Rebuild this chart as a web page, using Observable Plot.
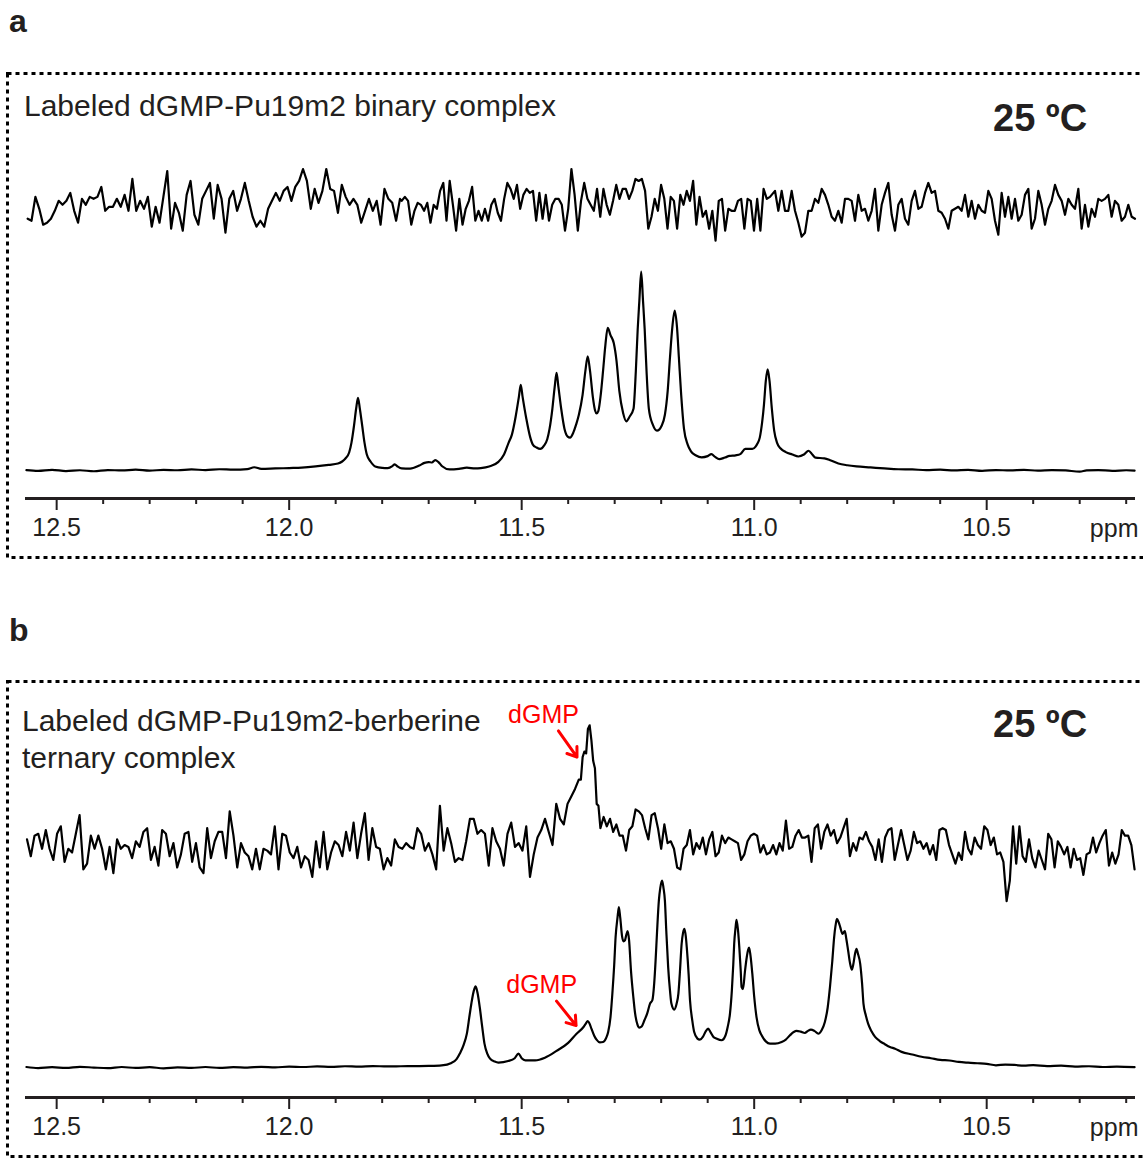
<!DOCTYPE html>
<html><head><meta charset="utf-8">
<script src="https://cdn.jsdelivr.net/npm/d3@7"></script>
<script src="https://cdn.jsdelivr.net/npm/@observablehq/plot@0.6"></script>
<style>
body{margin:0;background:#fff;}
#fig{position:relative;width:1143px;height:1158px;overflow:hidden;font-family:"Liberation Sans",Arial,Helvetica,sans-serif;color:#231f20;background:#fff;}
.abs{position:absolute;white-space:nowrap;line-height:1;}
</style></head><body><div id="fig"></div>
<script>
// ---------------- DATA ----------------
const xDomain = [12.567, 10.18];           // ppm, reversed axis
const majorTicks = [12.5, 12.0, 11.5, 11.0, 10.5];
const majorTickLabels = ["12.5", "12.0", "11.5", "11.0", "10.5"];
const minorTicks = [12.4,12.3,12.2,12.1,11.9,11.8,11.7,11.6,11.4,11.3,11.2,11.1,10.9,10.8,10.7,10.6,10.4,10.3,10.2];

// Panel a: 1D spectrum (ppm, intensity, tallest peak = 100)
const spectrumA = [[12.565,0.2],[12.54,-0.2],[12.51,0.3],[12.48,-0.3],[12.45,0.1],[12.42,-0.4],[12.39,0.2],[12.36,0],[12.33,0.4],[12.30,-0.1],[12.27,0.3],[12.24,0.1],[12.21,0.5],[12.18,0.2],[12.15,0.6],[12.12,0.4],[12.09,0.7],[12.075,1.6],[12.06,0.8],[12.03,1.0],[12.00,1.2],[11.973,1.4],[11.943,2.0],[11.915,2.8],[11.895,3.5],[11.886,4.5],[11.879,6],[11.871,9],[11.866,14],[11.8605,22.6],[11.856,31],[11.852,36.5],[11.848,31],[11.843,22.6],[11.838,14],[11.833,8],[11.825,4.5],[11.815,2],[11.800,1.3],[11.788,1.2],[11.778,2.2],[11.773,3.1],[11.767,2],[11.758,1],[11.74,0.9],[11.72,2.5],[11.709,3.8],[11.70,4.2],[11.693,4.0],[11.686,5.2],[11.679,4.2],[11.671,2.1],[11.655,0.5],[11.635,0.8],[11.618,1.4],[11.60,1.0],[11.588,1.2],[11.57,2.0],[11.55,4.3],[11.538,8],[11.528,14],[11.521,18],[11.513,27],[11.506,37],[11.502,43],[11.498,37],[11.490,26],[11.482,17],[11.476,13],[11.468,11.5],[11.460,10.8],[11.452,12.5],[11.445,15.7],[11.440,21],[11.434,31],[11.429,42],[11.425,49],[11.421,42],[11.415,31],[11.408,21],[11.401,17],[11.396,16.5],[11.389,19],[11.383,23],[11.377,28],[11.369,38],[11.363,50],[11.358,57.4],[11.353,50],[11.347,37],[11.342,30],[11.339,28.7],[11.335,30],[11.330,38],[11.325,50],[11.320,63],[11.315,71.7],[11.309,68],[11.302,64],[11.296,55],[11.290,40],[11.282,29],[11.275,24.7],[11.268,27],[11.2595,31],[11.2545,50],[11.2505,71],[11.247,85],[11.243,100],[11.239,85],[11.2355,71],[11.2315,50],[11.2265,31],[11.218,23],[11.209,20],[11.199,22.5],[11.192,28],[11.186,40],[11.181,57],[11.176,72],[11.171,80.3],[11.166,72],[11.162,57],[11.157,38],[11.151,21],[11.143,13],[11.136,9.6],[11.125,7.5],[11.113,6.6],[11.100,7.2],[11.092,8.2],[11.084,6.8],[11.075,5.7],[11.063,6.5],[11.053,7.3],[11.040,7.6],[11.030,8.2],[11.019,10.8],[11.004,10.8],[10.997,12],[10.993,13.5],[10.988,16.5],[10.983,24],[10.979,33],[10.975,45],[10.971,50.8],[10.967,45],[10.962,31],[10.957,20],[10.951,14],[10.943,11],[10.932,9.2],[10.918,8],[10.905,7],[10.893,8],[10.883,9.9],[10.875,8],[10.868,6.4],[10.849,6.1],[10.835,5],[10.819,3.5],[10.80,2.6],[10.78,2.0],[10.75,1.5],[10.72,1.0],[10.69,0.6],[10.66,0.5],[10.63,0.2],[10.60,0.4],[10.57,0],[10.54,0.3],[10.51,-0.2],[10.48,0.2],[10.45,0],[10.42,0.3],[10.39,-0.1],[10.36,0.2],[10.33,0],[10.30,-0.6],[10.285,0],[10.26,0.2],[10.23,-0.2],[10.20,0.1],[10.182,-0.1]];

// Panel a: difference trace (noise), read in three stretches [start ppm, end ppm, values]
const noiseA1 = [-7,-8,4,-2,-10,-9,-7,-3,2,0, 2,6,-3,-9,3,0,4,3,4,9, -3,-1,-1,3,-1,5,-3,13,-3,2, -2,4,-11,-1,-9,4,17,-12,1,-4, -13,5,12,-5,-10,3,7,11,-7,10, 3,-14,3,7,-3,3,11,2,-6,-11, -8,-11,-2,2,6,2,7,9,2,9, 12,18,12,-2,8,1,7,18,8,7, -4,10,4,0,3,0,-9,-3,3,-3, 2,-10,8,3,1,-8,3];
const noiseA2 = [2,4,2,-10,-3,1,0,-3,1,-9, 0,-2,7,11,-8,12,0,-13,3,-10, -2,2,9,-8,-3,-8,-2,-8,0,3, -4,-8,3,11,8,3,10,-2,5,8, 6,7,-8,6,-7,5,-8,0,3,3, 0,-13,-2,18,5,-13,2,11,3,0, -3,8,-6,8,0,-5,2,10,3,8, 8,3,7,13,12,13,7,-12,-6,3, -3,10,3,-12,4,2,-12,5,0,7, 2,12,-10,4,-6,-3,-12,-3,-18,2, 3,-13,-2,-3,-3,2,3,-12,3,2, -13,3,-13,8,3,4];
const noiseA3 = [5,7,-3,7,-3,-3,7,-3,-9,-16, -14,-3,-3,3,1,8,5,0,-6,-8, -3,-9,3,3,2,-8,5,-3,-2,-8, -3,8,-13,0,6,11,-5,-13,0,3, -7,-10,2,7,-2,-1,6,11,6,7, -3,-4,-7,-12,-3,-2,-1,-3,5,-6, 2,-7,0,-3,-4,7,3,-8,-15,6, -6,4,-7,3,-8,-5,5,8,-12,-7, 7,0,-10,-2,2,10,5,2,-5,3, 0,-2,8,-12,0,-11,-2,-6,3,2, 3,5,-6,2,0,-8,-6,0,-6,-7];
const noiseAStretches = [[12.5624, 11.7617, noiseA1], [11.7581, 10.966, noiseA2], [10.9624, 10.1811, noiseA3]];

// Panel b: 1D spectrum (ppm, intensity, tallest peak = 100)
const spectrumB = [[12.565,0.3],[12.54,-0.3],[12.51,0.2],[12.48,-0.2],[12.45,0.4],[12.42,0],[12.39,-0.3],[12.36,0.3],[12.33,-0.2],[12.30,0.2],[12.27,-0.4],[12.24,0.1],[12.21,-0.2],[12.18,0.3],[12.15,-0.2],[12.12,0.2],[12.09,0],[12.06,0.4],[12.03,0.1],[12.00,0.5],[11.97,0.3],[11.94,0.6],[11.91,0.4],[11.88,0.7],[11.85,0.5],[11.82,0.8],[11.79,0.6],[11.76,0.7],[11.73,0.8],[11.70,0.9],[11.672,1.2],[11.651,2.5],[11.640,4.5],[11.633,7.5],[11.625,12],[11.618,18],[11.612,28],[11.607,36],[11.603,41],[11.599,43.4],[11.595,40],[11.590,32],[11.585,22],[11.580,12.8],[11.574,7.5],[11.568,4.8],[11.558,3.2],[11.550,2.7],[11.529,3.5],[11.515,5],[11.507,7.5],[11.500,5],[11.492,3.9],[11.471,3.9],[11.450,5.3],[11.425,8.9],[11.400,13.2],[11.382,18.1],[11.367,21.7],[11.362,23.5],[11.358,24.9],[11.354,23.5],[11.350,20.8],[11.344,17],[11.339,14.9],[11.332,13.5],[11.325,13.7],[11.318,16],[11.314,19],[11.309,27],[11.305,39.5],[11.301,55],[11.298,69.8],[11.294,80],[11.291,85.8],[11.288,80],[11.284,70],[11.281,67.5],[11.278,68],[11.275,71],[11.272,73],[11.269,68],[11.265,52],[11.260,38],[11.256,28.8],[11.251,23],[11.247,21.4],[11.242,22],[11.236,25.3],[11.230,29],[11.224,34.2],[11.219,36],[11.215,45],[11.212,57.3],[11.209,72],[11.205,89.3],[11.202,96],[11.198,100],[11.195,96],[11.192,89.3],[11.189,73],[11.185,53.7],[11.181,41],[11.178,34.2],[11.172,31],[11.167,34],[11.163,39.5],[11.160,50],[11.156,66.2],[11.153,72],[11.150,74.2],[11.147,70],[11.145,64.4],[11.141,50],[11.138,35.9],[11.133,25],[11.129,19],[11.122,15.5],[11.117,14.9],[11.110,16.5],[11.104,19.5],[11.099,20.8],[11.094,19],[11.088,16.5],[11.081,15.5],[11.070,14.6],[11.062,17],[11.057,21.7],[11.052,29],[11.048,41.3],[11.045,55],[11.043,66.2],[11.040,75],[11.038,79],[11.035,74],[11.032,64.4],[11.029,52],[11.027,43],[11.024,42],[11.020,51.1],[11.016,59],[11.013,63],[11.011,64.1],[11.008,60],[11.004,50.2],[11.000,38],[10.995,27],[10.989,20],[10.984,17.3],[10.975,14],[10.966,12.8],[10.955,12.8],[10.941,13.7],[10.932,15],[10.923,17.3],[10.915,19],[10.909,19.6],[10.900,19.2],[10.891,18.5],[10.885,19.5],[10.878,20.3],[10.870,19.5],[10.862,18.1],[10.855,20],[10.848,24.4],[10.842,32],[10.837,43.1],[10.832,57],[10.828,69.8],[10.825,76],[10.822,79.5],[10.818,77.5],[10.815,75.1],[10.810,71.5],[10.807,72.5],[10.805,73],[10.802,69],[10.798,62.6],[10.794,56],[10.790,52.3],[10.787,55],[10.783,61],[10.780,63.5],[10.777,61],[10.772,55.5],[10.768,45],[10.765,34.2],[10.760,28],[10.755,23.5],[10.748,19.5],[10.740,16.4],[10.730,14.2],[10.719,12.5],[10.708,11],[10.697,10.1],[10.683,8.4],[10.66,7],[10.64,5.8],[10.62,5],[10.60,4.1],[10.58,3.8],[10.56,3.0],[10.54,2.6],[10.52,2.3],[10.50,2.0],[10.48,1.2],[10.46,1.6],[10.44,1.4],[10.42,1.0],[10.40,1.3],[10.37,0.8],[10.34,1.0],[10.31,0.5],[10.28,0.7],[10.25,0.3],[10.22,0.5],[10.182,0.2]];

// Panel b: difference trace (noise + dGMP signal)
const noiseB1 = [4,-5,6,7,-1,9,-1,-7,7,11, -8,-1,-3,7,17,-12,-9,6,-1,6, -1,-12,0,-14,4,-1,1,0,-6,3, 0,8,10,-7,0,-10,9,7,-5,2, -11,-4,7,8,-8,2,-11,-14,10,-6, 3,8,8,-6,19,6,-11,2,-3,-5, -12,-1,-12,-1,-2,-4,11,-12,7,6, -3,-6,0,-11,-5,-7,-16,3,-11,8, -12,-3,3,1,-5,8,-2,13,-6,7, 18,-7,10,0,-1,-12,-6,-10,4,0, -1,2,0,-1,10,7,-2,2,-4,-12, 22,-2,10,2,-8,-6,-7,3,15,15, 7,9,7,-10,10,3,-1,-10,7,13, 0,2,-2,11,-16,-4,5,9,15,8, 1,23,15,12,23,27,31,36];
const noiseB2 = [36,48,51,50,63,65,57,46,42,23,22];
const noiseB3 = [10,16,11,15,8,12,6,6,-2, 9,11,20,19,17,10,4,17,18,10, -1,12,2,3,-1,-11,-12,-1,1,9, -4,2,-1,5,-4,4,8,-5,-3,6, 2,5,4,3,2,-7,-4,3,6,7, 6,-3,1,-4,-3,1,-4,2,-2,14, -1,0,6,9,5,5,6,-8,10,12, -1,8,12,6,9,2,5,10,15,-5, 2,-2,5,4,8,3,0,-7,4,-8, 5,9,10,-7,1,9,1,-7,-2,8, 2,3,-1,2,-4,1,-7,9,10,9, 1,-4,-9,-3,-7,8,-1,-4,5,1, -1,11,9,1,5,-4,-3,-8,-29,-18, 11,-9,11,-5,-8,4,-6,-11,-2,-7, -12,7,4,-11,3,0,-4,0,-11,-1, -7,-6,-15,-4,-3,5,-3,2,6,9, -10,-3,-9,-4,9,6,6,1,-12];
const noiseBStretches = [[12.5637, 11.3772, noiseB1], [11.3727, 11.3349, noiseB2], [11.3307, 10.182, noiseB3]];

// annotations (panel b), in ppm / intensity units
const dgmpNotes = [
  {label: "dGMP", x: 11.453, y: 188.5, x1: 11.421, y1: 180, x2: 11.381, y2: 166},
  {label: "dGMP", x: 11.457, y: 44.4, x1: 11.425, y1: 35.5, x2: 11.383, y2: 22.5}
];

// ---------------- BUILD ----------------
const FONT = "'Liberation Sans', Arial, Helvetica, sans-serif";
const INK = "#231f20";
const toRows = arr => arr.map(([ppm, v]) => ({ppm, v}));
const stretchRows = stretches => stretches.flatMap(([s, e, vals]) =>
  vals.map((v, i) => ({ppm: s + (e - s) * i / (vals.length - 1), v})));

function panel({spectrum, noise, noiseOffset, yDomain, height, extra = []}) {
  return Plot.plot({
    width: 1143, height,
    marginLeft: 25, marginRight: 8, marginTop: 0, marginBottom: 61,
    x: {domain: xDomain, axis: null},
    y: {domain: yDomain, axis: null},
    style: {fontFamily: FONT, color: INK, background: "transparent", overflow: "visible"},
    marks: [
      Plot.axisX({ticks: minorTicks, tickSize: 6, strokeWidth: 2, tickFormat: () => "", label: null}),
      Plot.axisX({ticks: majorTicks, tickSize: 12, strokeWidth: 2, tickPadding: 8, fontSize: 25,
                  tickFormat: d => majorTickLabels[majorTicks.indexOf(d)], label: null}),
      Plot.ruleY([yDomain[0]], {stroke: INK, strokeWidth: 3}),
      Plot.text(["ppm"], {frameAnchor: "bottom-right", textAnchor: "end", lineAnchor: "top", dy: 21, dx: 3, fontSize: 25, fill: INK}),
      Plot.line(noise, {x: "ppm", y: d => d.v + noiseOffset, stroke: "#000", strokeWidth: 2.2, strokeLinejoin: "round"}),
      Plot.line(spectrum, {x: "ppm", y: "v", stroke: "#000", strokeWidth: 2.2, curve: "monotone-x"}),
      ...extra
    ]
  });
}

const fig = document.getElementById("fig");
function place(el, left, top) {
  const d = document.createElement("div");
  d.style.position = "absolute"; d.style.left = left + "px"; d.style.top = top + "px";
  d.appendChild(el); fig.appendChild(d);
}
function label(text, left, top, size, weight = "normal", lh = 1) {
  const d = document.createElement("div");
  d.className = "abs";
  d.style.left = left + "px"; d.style.top = top + "px";
  d.style.fontSize = size + "px"; d.style.fontWeight = weight; d.style.lineHeight = lh;
  d.innerHTML = text; fig.appendChild(d);
}

const plotA = panel({
  spectrum: toRows(spectrumA), noise: stretchRows(noiseAStretches), noiseOffset: 133.5,
  yDomain: [-14.1, 199.5], height: 486
});
place(plotA, 0, 73);

const plotB = panel({
  spectrum: toRows(spectrumB), noise: stretchRows(noiseBStretches), noiseOffset: 118,
  yDomain: [-16.0, 205.9], height: 476,
  extra: [
    Plot.text(dgmpNotes, {x: "x", y: "y", text: "label", fill: "#ff0000", fontSize: 25}),
    Plot.arrow(dgmpNotes, {x1: "x1", y1: "y1", x2: "x2", y2: "y2", stroke: "#ff0000", strokeWidth: 3, headLength: 11, headAngle: 70})
  ]
});
place(plotB, 0, 682);

// panel letters and texts
label("a", 9, 5, 32, "bold");
label("b", 9, 614, 32, "bold");
label("Labeled dGMP-Pu19m2 binary complex", 24, 91, 30);
label("25 ºC", 993, 99, 38, "bold");
label("Labeled dGMP-Pu19m2-berberine<br>ternary complex", 22, 702, 30, "normal", "37px");
label("25 ºC", 993, 705, 38, "bold");

// dashed frames
const frame = d3.create("svg").attr("width", 1143).attr("height", 1158)
  .style("position", "absolute").style("left", 0).style("top", 0).style("pointer-events", "none");
frame.append("rect").attr("x", 7.5).attr("y", 73.5).attr("width", 1150).attr("height", 484)
  .attr("fill", "none").attr("stroke", "#000").attr("stroke-width", 3).attr("stroke-dasharray", "4 4");
frame.append("rect").attr("x", 7.5).attr("y", 681.5).attr("width", 1150).attr("height", 475)
  .attr("fill", "none").attr("stroke", "#000").attr("stroke-width", 3).attr("stroke-dasharray", "4 4");
fig.appendChild(frame.node());
</script></body></html>
